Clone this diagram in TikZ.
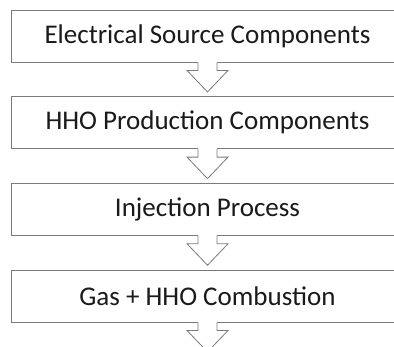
\documentclass[tikz,border=0pt]{standalone}
\usepackage{fontspec}
\setmainfont{Carlito}
\usetikzlibrary{calc}
\definecolor{edge}{HTML}{7A7A7A}
\definecolor{ink}{HTML}{1A1A1A}
\tikzset{
  x=1pt, y=-1pt,
  stage/.style={draw=edge, line width=0.9pt, fill=white, minimum width=393pt,
    minimum height=52pt, inner sep=0pt, text=ink,
    font=\fontsize{27}{31}\selectfont},
  blockarrow/.pic={
    % white body hides the box edge under the stem
    \fill[white] (-9.5,-1) -- (-9.5,8) -- (-20.5,8) -- (0,29.5) -- (20.5,8)
      -- (9.5,8) -- (9.5,-1) -- cycle;
    \draw[edge, line width=0.8pt, line join=miter]
      (-9.5,0) -- (-9.5,8) -- (-20.5,8) -- (0,29.5) -- (20.5,8)
      -- (9.5,8) -- (9.5,0);
  }
}
\begin{document}
\begin{tikzpicture}
\useasboundingbox (0,0) rectangle (394,347);
\clip (0,0) rectangle (394,347);
\node[stage] (s1) at (207.5,36)    {Electrical Source Components};
\node[stage] (s2) at (207.5,122.7) {HHO Production Components};
\node[stage] (s3) at (207.5,209.3) {Injection Process};
\node[stage] (s4) at (207.5,296)   {Gas + HHO Combustion};
\foreach \s in {s1,s2,s3,s4}
  \pic at (\s.south) {blockarrow};
\end{tikzpicture}
\end{document}
